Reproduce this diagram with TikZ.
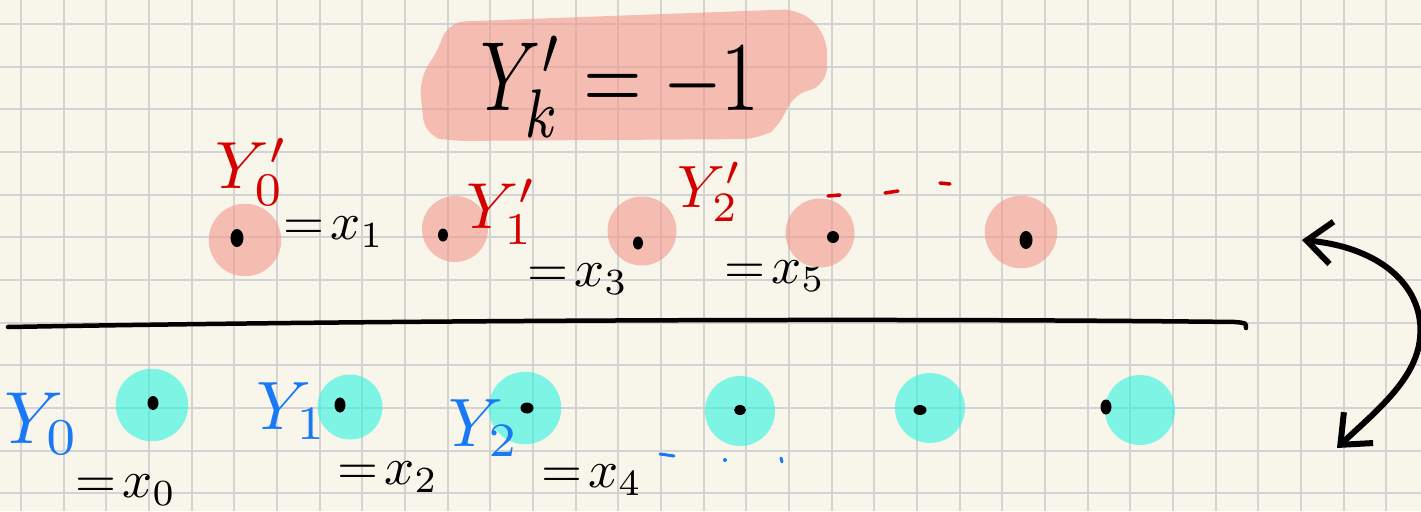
\documentclass[tikz,border=0pt]{standalone}
\usetikzlibrary{arrows.meta,shapes.geometric}
\definecolor{paper}{RGB}{248,246,234}
\definecolor{gridc}{RGB}{211,211,211}
\definecolor{pinkc}{RGB}{244,150,140}
\definecolor{cyanc}{RGB}{45,244,227}
\definecolor{redink}{RGB}{212,0,0}
\definecolor{blueink}{RGB}{25,120,245}
\begin{document}
\begin{tikzpicture}[x=0.02cm,y=-0.02cm,
  gridline/.style={gridc, line width=0.04cm},
  blobP/.style={circle, fill=pinkc, fill opacity=0.6, inner sep=0, minimum size=1.45cm},
  blobC/.style={circle, fill=cyanc, fill opacity=0.6, inner sep=0, minimum size=1.45cm},
  inkdot/.style={ellipse, fill=black, inner sep=0, minimum width=0.26cm, minimum height=0.36cm},
  lab/.style={inner sep=0, outer sep=0},
  penline/.style={black, line width=0.09cm, line cap=round},
  arrowline/.style={black, line width=0.12cm, line cap=round,
    {Straight Barb[length=0.5cm,width=0.85cm]}-{Straight Barb[length=0.5cm,width=0.85cm]}},
  redmark/.style={redink, line width=0.07cm, line cap=round},
  bluemark/.style={blueink, line width=0.06cm, line cap=round}]
\fill[paper] (0,0) rectangle (1421,511);
\useasboundingbox (0,0) rectangle (1421,511);
\foreach \i in {0,...,32} \draw[gridline] ({21+42.67*\i},0) -- ({21+42.67*\i},511);
\foreach \j in {0,...,11} \draw[gridline] (0,{24+42.67*\j}) -- (1421,{24+42.67*\j});

% top highlight
\fill[pinkc, fill opacity=0.6, rounded corners=0.35cm]
  (447,22) -- (800,9) -- (827,35) -- (827,85) -- (790,96) -- (782,125) -- (760,139)
  -- (450,141) -- (425,136) -- (419,78) -- (440,48) -- cycle;
\node[lab] (eq) at (620,87) {\scalebox{4.3}[5.6]{$Y'_k = -1$}};

% top row
\node[blobP] (p1) at (245,240) {};
\node[blobP, minimum size=1.32cm] (p2) at (455,229) {};
\node[blobP, minimum size=1.38cm] (p3) at (642,231) {};
\node[blobP, minimum size=1.38cm] (p4) at (820,233) {};
\node[blobP] (p5) at (1021,232) {};
\node[inkdot] (d1) at (237,238) {};
\node[inkdot, minimum width=0.2cm, minimum height=0.26cm] (d2) at (443,235) {};
\node[inkdot, minimum width=0.2cm, minimum height=0.26cm] (d3) at (638,243) {};
\node[inkdot, minimum width=0.24cm, minimum height=0.24cm] (d4) at (833,237) {};
\node[inkdot] (d5) at (1026,240) {};

\node[lab, text=redink] (ly0) at (252,172) {\scalebox{3.8}{$Y'_0$}};
\node[lab] (lx1) at (334,232) {\scalebox{3}{$=\!x_1$}};
\node[lab, text=redink] (ly1) at (502,212) {\scalebox{3.7}{$Y'_1$}};
\node[lab] (lx3) at (578,279) {\scalebox{3}{$=\!x_3$}};
\node[lab, text=redink] (ly2) at (710,192) {\scalebox{3.4}{$Y'_2$}};
\node[lab] (lx5) at (775,276) {\scalebox{3}{$=\!x_5$}};
\draw[redmark] (828,196) -- (840,195);
\draw[redmark] (885,193) -- (898,191);
\draw[redmark] (940,183) -- (950,184);

% divider
\coordinate (hl) at (8,327);
\coordinate (hr) at (1246,328);
\draw[penline] (hl) .. controls (400,320) and (900,318) .. (1235,322) .. controls (1246,323) .. (hr);

% bottom row
\node[blobC] (c1) at (152,405) {};
\node[blobC, minimum size=1.3cm] (c2) at (350,407) {};
\node[blobC] (c3) at (525,408) {};
\node[blobC, minimum size=1.4cm] (c4) at (740,411) {};
\node[blobC, minimum size=1.4cm] (c5) at (930,408) {};
\node[blobC, minimum size=1.4cm] (c6) at (1140,410) {};
\node[inkdot, minimum width=0.22cm, minimum height=0.28cm] (e1) at (153,403) {};
\node[inkdot, minimum width=0.22cm, minimum height=0.3cm] (e2) at (340,405) {};
\node[inkdot, minimum width=0.26cm, minimum height=0.22cm] (e3) at (527,408) {};
\node[inkdot, minimum width=0.24cm, minimum height=0.2cm] (e4) at (740,410) {};
\node[inkdot, minimum width=0.26cm, minimum height=0.2cm] (e5) at (920,410) {};
\node[inkdot, minimum width=0.22cm, minimum height=0.3cm] (e6) at (1106,407) {};

\node[lab, text=blueink] (ly0b) at (42,424) {\scalebox{4.2}{$Y_0$}};
\node[lab] (lx0) at (126,490) {\scalebox{3}{$=\!x_0$}};
\node[lab, text=blueink] (ly1b) at (292,411) {\scalebox{3.9}{$Y_1$}};
\node[lab] (lx2) at (388,477) {\scalebox{3}{$=\!x_2$}};
\node[lab, text=blueink] (ly2b) at (484,428) {\scalebox{3.9}{$Y_2$}};
\node[lab] (lx4) at (592,480) {\scalebox{3}{$=\!x_4$}};
\draw[bluemark] (660,454) -- (674,456);
\fill[blueink] (725,460) circle (2);
\draw[bluemark] (781,458) -- (782,462);

% double arrow
\coordinate (atop) at (1302,240);
\coordinate (abot) at (1337,448);
\draw[arrowline] (atop) .. controls (1385,248) and (1425,290) .. (1420,338) .. controls (1416,380) and (1375,412) .. (abot);
\end{tikzpicture}
\end{document}
